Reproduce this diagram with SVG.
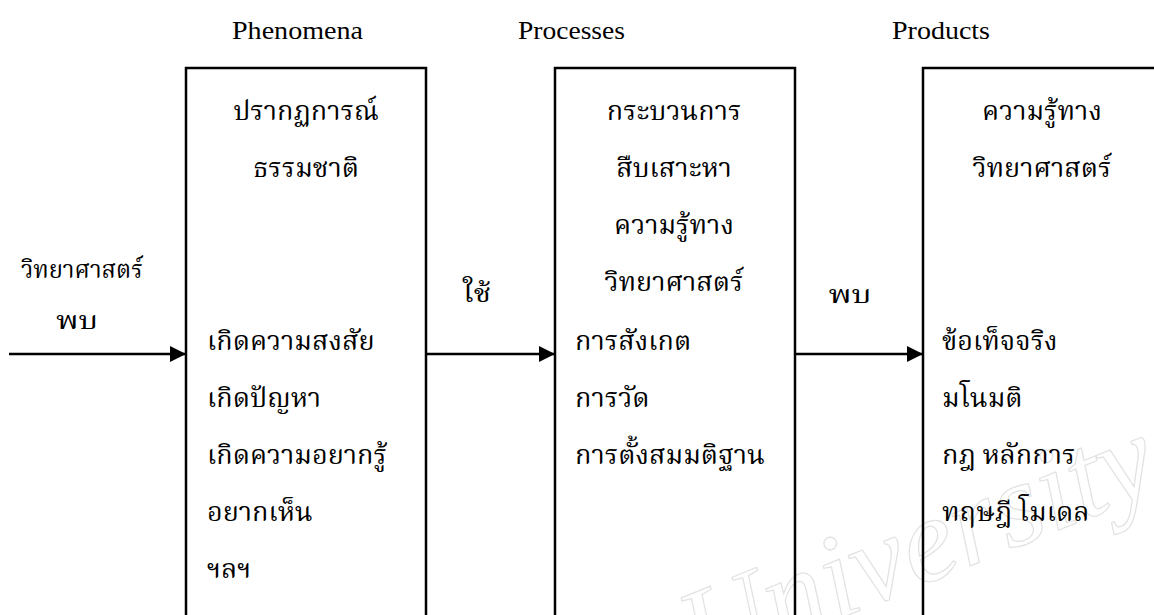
<svg xmlns="http://www.w3.org/2000/svg" width="1154" height="615" viewBox="0 0 1154 615">
<defs>
<style>
.hd{font-family:"Liberation Serif","Times New Roman",serif;font-size:25px;fill:#000}
.th{font-family:"Liberation Serif","Noto Serif Thai","Noto Sans Thai","DejaVu Sans",serif;font-size:27px;fill:#000}
.lb{font-family:"Liberation Serif","Noto Serif Thai","Noto Sans Thai","DejaVu Sans",serif;font-size:25px;fill:#000}
.c{text-anchor:middle}
.box{fill:none;stroke:#000;stroke-width:2.5}
.arr{stroke:#000;stroke-width:2.5;fill:none}
.wm{font-family:"Liberation Serif",serif;font-style:italic;font-size:120px;fill:none;stroke:#e2e2e2;stroke-width:1.2}
</style>
<marker id="ah" markerWidth="16" markerHeight="16" viewBox="0 0 16 16" refX="16" refY="8" orient="auto" markerUnits="userSpaceOnUse">
<path d="M0,0 L16,8 L0,16 Z" fill="#000"/>
</marker>
</defs>
<rect width="1154" height="615" fill="#fff"/>
<text class="wm" x="700" y="675" transform="rotate(-22 700 675)">University</text>
<g id="headings">
<text class="hd" x="232" y="39" textLength="131" lengthAdjust="spacingAndGlyphs">Phenomena</text>
<text class="hd" x="518" y="39" textLength="107" lengthAdjust="spacingAndGlyphs">Processes</text>
<text class="hd" x="892" y="39" textLength="98" lengthAdjust="spacingAndGlyphs">Products</text>
</g>
<g id="start-label">
<text class="lb" x="21" y="278" textLength="122" lengthAdjust="spacingAndGlyphs">วิทยาศาสตร์</text>
<text class="lb" x="56" y="329" textLength="42" lengthAdjust="spacingAndGlyphs">พบ</text>
</g>
<g id="node-phenomena">
<rect class="box" x="186" y="68" width="240" height="600"/>
<text class="th c" x="306" y="120">ปรากฏการณ์</text>
<text class="th c" x="306" y="177">ธรรมชาติ</text>
<text class="th" x="207" y="350">เกิดความสงสัย</text>
<text class="th" x="207" y="407">เกิดปัญหา</text>
<text class="th" x="207" y="464">เกิดความอยากรู้</text>
<text class="th" x="207" y="521">อยากเห็น</text>
<text class="th" x="207" y="578">ฯลฯ</text>
</g>
<g id="node-processes">
<rect class="box" x="555" y="68" width="240" height="600"/>
<text class="th c" x="674" y="120">กระบวนการ</text>
<text class="th c" x="674" y="177">สืบเสาะหา</text>
<text class="th c" x="674" y="234">ความรู้ทาง</text>
<text class="th c" x="674" y="291">วิทยาศาสตร์</text>
<text class="th" x="575" y="350">การสังเกต</text>
<text class="th" x="575" y="407">การวัด</text>
<text class="th" x="575" y="464">การตั้งสมมติฐาน</text>
</g>
<g id="node-products">
<rect class="box" x="923" y="68" width="260" height="600"/>
<text class="th c" x="1042" y="120">ความรู้ทาง</text>
<text class="th c" x="1042" y="177">วิทยาศาสตร์</text>
<text class="th" x="942" y="350">ข้อเท็จจริง</text>
<text class="th" x="942" y="407">มโนมติ</text>
<text class="th" x="942" y="464">กฎ หลักการ</text>
<text class="th" x="942" y="521">ทฤษฎี โมเดล</text>
</g>
<g id="connectors">
<line class="arr" x1="9" y1="354" x2="186" y2="354" marker-end="url(#ah)"/>
<line class="arr" x1="426" y1="354" x2="555" y2="354" marker-end="url(#ah)"/>
<line class="arr" x1="795" y1="354" x2="923" y2="354" marker-end="url(#ah)"/>
<text class="lb c" x="477" y="302" textLength="28" lengthAdjust="spacingAndGlyphs">ใช้</text>
<text class="lb c" x="850" y="303" textLength="43" lengthAdjust="spacingAndGlyphs">พบ</text>
</g>
</svg>
